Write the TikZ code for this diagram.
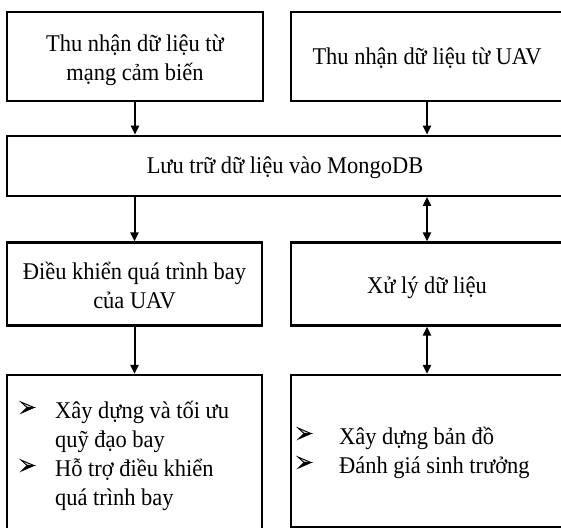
\documentclass[tikz,border=0pt]{standalone}
\usepackage{fontspec}
\setmainfont{Liberation Serif}[FakeStretch=0.935]
\usetikzlibrary{arrows.meta}
\begin{document}
\begin{tikzpicture}[x=1bp,y=-1bp,
  box/.style={draw, line width=2.2bp, inner sep=0pt},
  arr/.style={line width=2bp, -{Triangle[length=9bp,width=8bp]}},
  darr/.style={line width=2bp, {Triangle[length=9bp,width=8bp]}-{Triangle[length=9bp,width=8bp]}},
  ctxt/.style={inner sep=0pt, anchor=base, font=\fontsize{24bp}{29bp}\selectfont},
  txt/.style={inner sep=0pt, anchor=base west, font=\fontsize{24bp}{29bp}\selectfont},
  abul/.pic={
    \filldraw[fill=gray!45, draw=black, line width=0.9bp, line join=miter]
      (0,-16) -- (13,-10.5) -- (6,-10.5) -- cycle;
    \filldraw[fill=black, draw=black, line width=0.9bp, line join=miter]
      (0.5,-5) -- (13,-10.5) -- (6,-10.5) -- cycle;
  }]
\useasboundingbox (0,0) rectangle (561,528);
\clip (0,0) rectangle (561,528);
\fill[white] (0,0) rectangle (561,528);

% boxes
\node[box, minimum width=256bp, minimum height=89bp] (A) at (135,56.5) {};
\node[box, minimum width=272bp, minimum height=89bp] (B) at (427,56.5) {};
\node[box, minimum width=556bp, minimum height=60bp] (C) at (285,165.8) {};
\node[box, minimum width=255bp, minimum height=83bp] (D) at (134.5,284) {};
\node[box, minimum width=272bp, minimum height=83bp] (E) at (427,284) {};
\node[box, minimum width=255bp, minimum height=170bp] (F) at (134.5,460) {};
\node[box, minimum width=272bp, minimum height=152.5bp] (G) at (427,451.25) {};

% box texts
\node[ctxt] (A1) at (135,51.7) {Thu nhận dữ liệu từ};
\node[ctxt] (A2) at (135,81) {mạng cảm biến};
\node[ctxt] (B1) at (427,65) {Thu nhận dữ liệu từ UAV};
\node[ctxt] (C1) at (285,174) {Lưu trữ dữ liệu vào MongoDB};
\node[ctxt] (D1) at (134.5,279.5) {Điều khiển quá trình bay};
\node[ctxt] (D2) at (134.5,308.8) {của UAV};
\node[ctxt] (E1) at (427,293) {Xử lý dữ liệu};

% bullet lists
\pic at (21,418) {abul};
\node[txt] (f1) at (55,418) {Xây dựng và tối ưu};
\node[txt] (f1c) at (55,447) {quỹ đạo bay};
\pic at (21,476) {abul};
\node[txt] (f2) at (55,476) {Hỗ trợ điều khiển};
\node[txt] (f2c) at (55,505) {quá trình bay};

\pic at (298,444) {abul};
\node[txt] (g1) at (339,444) {Xây dựng bản đồ};
\pic at (298,473) {abul};
\node[txt] (g2) at (339,473) {Đánh giá sinh trưởng};

% connectors
\draw[arr] (A.south) -- (A.south |- C.north);
\draw[arr] (B.south) -- (B.south |- C.north);
\draw[arr] (C.south -| D.north) -- (D.north);
\draw[darr] (C.south -| E.north) -- (E.north);
\draw[arr] (D.south) -- (F.north);
\draw[darr] (E.south) -- (G.north);
\end{tikzpicture}
\end{document}
